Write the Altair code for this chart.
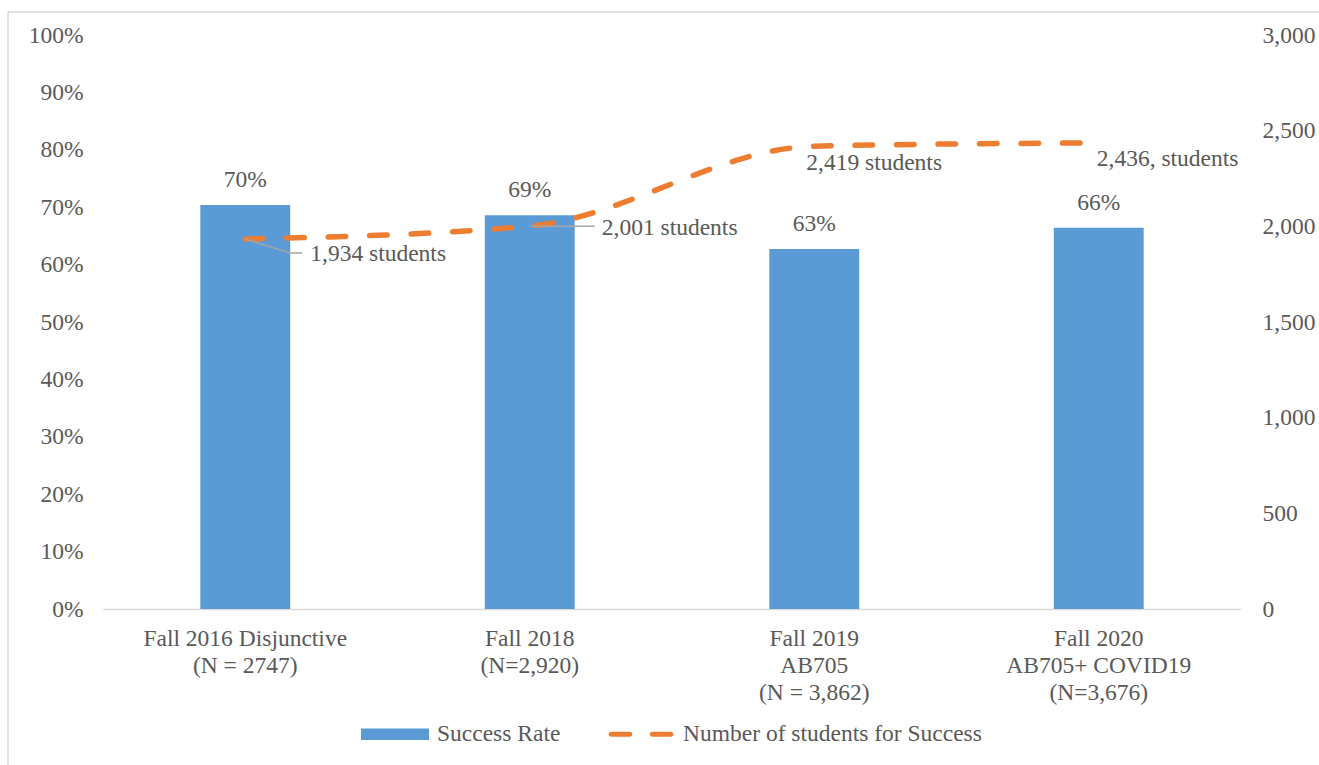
import altair as alt
import pandas as pd

# ---------------- data ----------------
categories = [
    "Fall 2016 Disjunctive\n(N = 2747)",
    "Fall 2018\n(N=2,920)",
    "Fall 2019\nAB705\n(N = 3,862)",
    "Fall 2020\nAB705+ COVID19\n(N=3,676)",
]
success_rate = [0.704, 0.686, 0.627, 0.664]
students = [1934, 2001, 2419, 2436]
student_labels = ["1,934 students", "2,001 students", "2,419 students", "2,436, students"]
legend_names = ["Success Rate", "Number of students for Success"]

df = pd.DataFrame({
    "cat": categories,
    "rate": success_rate,
    "students": students,
    "slabel": student_labels,
    "idx": list(range(len(categories))),
})
legend_df = pd.DataFrame({"series": legend_names})
one_df = pd.DataFrame({"a": [0]})

# ---------------- style ----------------
SERIF = "Liberation Serif"
FS = 23.5
GREY = "#595959"
BLUE = "#5B9BD5"
ORANGE = "#ED7D31"
LEADER = "#A6A6A6"

x_enc = alt.X(
    "cat:N", sort=categories,
    scale=alt.Scale(paddingInner=0.684, paddingOuter=0.342),
    axis=alt.Axis(
        title=None, labelAngle=0, labelExpr="split(datum.label, '\\n')",
        labelFont=SERIF, labelFontSize=FS, labelColor=GREY, labelLineHeight=27,
        labelPadding=17, labelBaseline="top", labelLimit=500,
        domainColor="#D9D9D9", domainWidth=1.5, ticks=False, grid=False,
    ),
)
x_pos = alt.X("cat:N", sort=categories, bandPosition=0.5)
x2_pos = alt.X2("cat:N", bandPosition=0.5)

y_left = alt.Y(
    "rate:Q", scale=alt.Scale(domain=[0, 1], nice=False),
    axis=alt.Axis(
        title=None, orient="left", format=".0%", tickCount=10, grid=False,
        domain=False, ticks=False, labelFont=SERIF, labelFontSize=FS,
        labelColor=GREY, labelPadding=20,
    ),
)
y_right = alt.Y(
    "students:Q", scale=alt.Scale(domain=[0, 3000], nice=False),
    axis=alt.Axis(
        title=None, orient="right", format=",d", tickCount=6, grid=False,
        domain=False, ticks=False, labelFont=SERIF, labelFontSize=FS,
        labelColor=GREY, labelPadding=21, labelAlign="left",
    ),
)
y2_right = alt.Y2("students:Q")

base = alt.Chart(df)

bars = base.mark_bar(color=BLUE).encode(x=x_enc, y=y_left)
bar_labels = base.mark_text(
    dy=-25, font=SERIF, fontSize=FS, color=GREY, baseline="middle"
).encode(x=x_enc, y=y_left, text=alt.Text("rate:Q", format=".0%"))

left = alt.layer(bars, bar_labels)

line = base.mark_line(
    color=ORANGE, strokeWidth=5.5, strokeDash=[17.5, 24], strokeCap="round",
    interpolate="monotone",
).encode(x=x_enc, y=y_right)

label_offsets = [(65, 15), (72, 2), (-8, 17), (-2, 16)]
text_layers = []
for i, (ddx, ddy) in enumerate(label_offsets):
    text_layers.append(
        base.transform_filter(f"datum.idx == {i}").mark_text(
            align="left", baseline="middle", dx=ddx, dy=ddy,
            font=SERIF, fontSize=FS, color=GREY,
        ).encode(x=x_enc, y=y_right, text="slabel:N")
    )

leader1a = base.transform_filter("datum.idx == 0").mark_rule(
    color=LEADER, strokeWidth=1.5, x2Offset=45, y2Offset=14
).encode(x=x_pos, x2=x2_pos, y=y_right, y2=y2_right)
leader1b = base.transform_filter("datum.idx == 0").mark_rule(
    color=LEADER, strokeWidth=1.5, xOffset=45, yOffset=14, x2Offset=57, y2Offset=14
).encode(x=x_pos, x2=x2_pos, y=y_right, y2=y2_right)
leader2 = base.transform_filter("datum.idx == 1").mark_rule(
    color=LEADER, strokeWidth=1.5, x2Offset=65
).encode(x=x_pos, x2=x2_pos, y=y_right, y2=y2_right)

# legend carrier (points placed off-canvas, custom symbol paths)
rect_path = "M-1,-0.172H1V0.172H-1Z"
r = 0.0735
dash_path = (
    f"M-0.88,-{r}H-0.33A{r},{r} 0 0 1 -0.33,{r}H-0.88A{r},{r} 0 0 1 -0.88,-{r}Z "
    f"M0.33,-{r}H0.88A{r},{r} 0 0 1 0.88,{r}H0.33A{r},{r} 0 0 1 0.33,-{r}Z"
)
legend_layer = alt.Chart(legend_df).mark_point(filled=True, opacity=1).encode(
    x=alt.value(-5000), y=alt.value(-5000),
    color=alt.Color(
        "series:N",
        scale=alt.Scale(domain=legend_names, range=[BLUE, ORANGE]),
        legend=alt.Legend(
            title=None, orient="none", legendX=258, legendY=665,
            direction="horizontal", symbolSize=4624, symbolOpacity=1,
            symbolStrokeWidth=0, labelFont=SERIF, labelFontSize=FS,
            labelColor=GREY, labelOffset=8, columnPadding=46, padding=0,
            labelLimit=600,
        ),
    ),
    shape=alt.Shape(
        "series:N",
        scale=alt.Scale(domain=legend_names, range=[rect_path, dash_path]),
    ),
)

frame_top = alt.Chart(one_df).mark_rule(color="#D9D9D9", strokeWidth=1.5).encode(
    x=alt.value(-95), x2=alt.value(1300), y=alt.value(-23)
)
frame_left = alt.Chart(one_df).mark_rule(color="#D9D9D9", strokeWidth=1.5).encode(
    x=alt.value(-95), y=alt.value(-23), y2=alt.value(800)
)

right = alt.layer(
    line, *text_layers, leader1a, leader1b, leader2, legend_layer, frame_top, frame_left
)

chart = (
    alt.layer(left, right)
    .resolve_scale(y="independent")
    .properties(
        width=1138, height=574,
        autosize=alt.AutoSizeParams(type="none"),
        padding={"left": 103, "top": 35, "right": 78, "bottom": 156},
        background="white",
    )
    .configure_view(stroke=None)
)

chart.save("out.html", embed_options={"renderer": "svg", "actions": False})
